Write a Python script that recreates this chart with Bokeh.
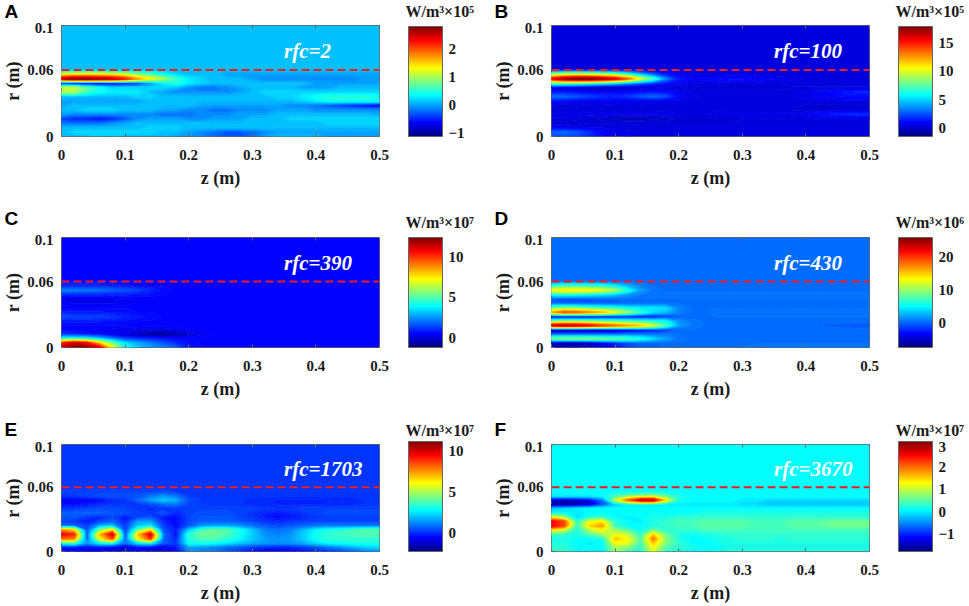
import numpy as np
from bokeh.core.properties import value
from bokeh.embed import file_html
from bokeh.layouts import column, row
from bokeh.models import ColorBar, FixedTicker, LinearAxis, LinearColorMapper, Span
from bokeh.plotting import figure
from bokeh.resources import INLINE

# field values in tenths of the colour bar unit, rows from r=0 upward in steps of 0.004,
# columns from z=0 to z=0.5 in steps of 0.02; short rows carry on with the background value
A = [
    [1,1,1,2,2,1,1,1,1,0,0,-1,-2,-3,-3,-2,0,1,1,1,1,0,0,0,0,0],
    [1,2,2,2,2,2,2,2,1,1,0,-1,-2,-3,-3,-2,-1,0,0,0,0,0,0,0,0,0],
    [1,1,1,1,1,1,1,2,2,2],
    [-2,-2,-2,-2,-1,0,1,1,1,1,1,1,1,1,1,1,1,1,1,1,1,2,2,2,2,2],
    [-4,-5,-5,-6,-5,-3,-1,0,0,0,-1,-1,0,0,0,1,1,1,2,2,2,2,2,2,2,2],
    [0,-1,-1,-1,-1,-1,-1,-1,-2,-2,-2,-1,-1,-1,0,0,0,1,1,1,1,1,1,1,1,0],
    [1,1,2,2,2,1,1,1,0,0,-1,-1,-2,-2,-1,-1,-1,0,0,0,-1,-1,-1,-1,-1,-1],
    [0,1,1,1,1,1,1,1,1,1,1,0,0,0,0,0,0,0,-1,-1,-2,-3,-4,-5,-6,-7],
    [0,0,0,0,0,0,0,1,1,1,1,1,1,1,1,1,1,1,1,2,3,4,4,4,4,4],
    [1,1,1,1,1,1,2,2,1,1,1,1,1,1,1,1,1,2,2,3,4,5,5,5,5,4],
    [10,10,6,4,3,3,3,1,0,-1,-1,-1,-1,-1,0,1,2,2,2,2,2,2,2,2,2,2],
    [11,11,7,4,2,2,2,2,2,1,-1,-2,-2,-1,0,1,1,1,1,0,0,0,1,1,1,1],
    [-7,-9,-9,-9,-8,-7,-5,-1,3,5,3,2,1,1,1,1,1,1,1,1,0,0,0,0,0,0],
    [25,27,27,26,25,22,17,13,10,6,3,2,1,1,1,0,-1,-1,-1,-1,-1,-1,-1,-1,0,0],
    [12,13,13,13,12,11,8,6,4,2,1,1,1,0,0,0,0,0,0,0,0,0,0,0,0,0],
]
B = [
    [22,24,22,18,10,6,5,5],
    [28,30,26,18,10,7,6,5,5],
    [8,7,6,5,5],
    [2,2,2,3,3,3,3,3,3,3,3,3,3,3,3],
    [5,5,4,2,0,-2,-3,-3,-2,0,1,2,2,3,3,3,3,3,3,3,3,3,3,3,3,3],
    [6,6,6,6,6,6,6,6,6,6,5,5,5,6,6,6,6,6,6,6,8,10,14,16,18,18],
    [4,4,4,4,4,4,4,4,4,5,5,5,5,5,4,4,4,4,4,3,3,3,3,3,3,3],
    [3,2,3,5,5,5,5,5,4,4,4,4,4,4,4,4,4,4,4,4,3,3,3,3,3,3],
    [12,10,8,7,7,6,6,6,6,5,5,5,5],
    [30,30,26,22,18,16,20,26,30,25,10,6,5,5,5,5,5,5,5,5,6,8,10,12,12,12],
    [14,14,12,10,9,9,10,12,14,12,7,5,5,5,5,5,5,5,5,5,6,8,10,14,16,16],
    [3,0,-4,-6,-6,-5,-3,-1,1,2,3,2,2,2,2,2,2,2,2,3,3,3,3,3,3,3],
    [70,70,68,62,56,48,38,28,20,14,8,6,5,5],
    [155,170,178,178,170,158,135,100,70,35,14,10,8,10,12,12,10,8,7,6,5,5,5,5,5,5],
    [85,92,95,92,88,80,64,44,28,14,7,5,5,5,5,5],
]
C = [
    [115,124,122,110,72,44,32,26,22,18,8],
    [100,115,105,80,55,36,28,22,16,10,7],
    [42,42,40,32,22,14,12,10,8],
    [12,10,8,6,3,0,-4,-8,-10,-6,-2,3,5],
    [6,5,5,4,4,3,2,1,1,2,4,5],
    [],
    [8,8,8,8,7,7],
    [15,14,14,13,12,10,8,7],
    [8,8,8,8,7,7],
    [],
    [4,3,3,3,3,4,5,5],
    [3,3,3,3,3,4,5,5],
    [10,9,9,9,8,8,7,7],
    [22,22,21,20,18,16,14,10,7],
    [10,10,10,10,9,8,7],
]
D = [
    [-45,-50,-50,-48,-40,-25,-10,0,0,2,4,4,4,4,4,4,6,8,8,8,8,8,8,8,8,8],
    [-65,-70,-68,-60,-45,-25,-10,-2,0,2],
    [85,90,90,88,85,80,72,60,40,20,6],
    [0,0,0,0,0,0,5,5,5,5],
    [-70,-72,-70,-68,-62,-55,-45,-35,-25,-15,0],
    [225,235,230,215,195,180,165,150,120,75,20,8,4,4,4,4,4,4,4,4,2,0,-2,-4,-5,-5],
    [80,85,85,80,75,70,65,60,55,50,15,6],
    [-50,-55,-55,-50,-45,-40,-35,-35,-30,-15,-2,2],
    [160,190,185,170,155,130,100,70,40,30,10,4,4,6,6,6,6,6,6,6,6,6,6,6,6,6],
    [80,90,85,75,65,60,50,45,45,40,10],
    [2,0,-2,-2,-1,0,1,2,3],
    [-5,-8,-8,-5,-2,0,2,3],
    [50,55,50,45,40,30,18,8,6,6,6,6,6,6,6,6,6,6,6,6,6,6,6,6,6,6],
    [130,140,140,135,125,105,60,20,6,2,2,2,2,2,2,2,2,2,2,2,2,2,2,2,2,2],
    [60,70,70,65,60,45,25,10],
]
E = [
    [-6,-8,-8,-8,-10,-12,-8,-10,-14,-6,14,14,12,6,2,-4,-6,-6,-6,-4,0,2,4,8,12,14],
    [-2,-2,-4,-4,-6,-8,-4,-6,-8,-2,16,14,12,8,6,2,0,0,0,2,6,10,14,18,22,24],
    [30,35,15,28,30,10,25,30,8,2,30,32,30,26,22,18,16,14,15,18,24,28,30,32,32,32],
    [80,78,6,60,85,5,62,88,8,0,32,38,38,34,28,22,16,14,16,22,30,34,34,34,34,34],
    [95,90,5,70,100,3,68,100,10,-4,34,42,42,38,30,22,14,12,14,22,30,34,36,38,38,38],
    [75,65,5,45,65,2,42,65,6,-2,22,38,42,40,32,22,12,10,12,20,28,32,34,38,40,40],
    [8,8,3,18,20,2,22,26,3,-4,6,14,16,16,14,10,6,4,6,8,10,10,10,10,10,10],
    [4,2,-2,4,8,-1,16,16,0,-4,4,8,8,8,6,4,2,0,2,3,4,4,4,4,4,4],
    [6,6,2,0,4,-3,4,6,-2,-4,4,6,6,6,4,2,-2,-4,-2,0,2,3,3,3,3,3],
    [8,8,8,8,6,5,4,2,6,0,4,5,5,5,4,2,0,-2,0,2,4,5,5,5,5,5],
    [2,2,4,5,5,4,2,1,2,2,4,4,4,4,4,4,2,2,2,4,4,4,4,4,4,4],
    [-3,-4,-2,0,2,3,2,4,8,10,4,3,2,2,2,1,1,0,0,0,0,1,1,1,2,2],
    [-6,-6,-6,-4,0,2,8,16,22,18,5,3,2,2,2,1,1,0,0,0,0,0,0,0,2,2],
    [2,2,4,5,5,5,6,10,14,10,3],
    [4,4,4,4,4,4,4,4,4,3],
]
F = [
    [3,3,1,0,0,8,5,2,12,3,2,1,1,1,2,2,2,2,2,2,2,2,2,2,2,2],
    [3,3,1,1,1,9,7,3,13,5,3,2,1,1,2,2,2,2,2,2,2,2,2,2,2,2],
    [2,2,1,0,1,13,12,4,16,7,3,1,1,1,2,2,2,2,2,2,2,2,2,2,2,2],
    [2,2,1,1,2,16,13,4,20,7,2,1,1,2,2,3,3,3,2,3,3,3,3,3,3,3],
    [4,3,2,5,8,12,10,3,15,6,2,1,2,2,3,3,3,3,3,3,3,3,3,3,3,3],
    [12,10,2,9,13,8,5,1,6,3,3,3,4,4,4,4,4,4,4,4,4,4,4,4,4,4],
    [26,22,3,15,18,3,1,1,2,3,4,4,5,5,5,5,4,4,4,5,5,5,6,6,6,6],
    [26,22,3,12,14,3,1,0,2,3,4,4,5,5,5,5,4,4,4,5,5,5,6,6,6,6],
    [12,8,-1,2,3,1,0,1,2,2,3,3,3,3,3,3,3,3,3,3,3,3,3,3,3,3],
    [1,1,0,1,1,1,1,1,1,1,1,1,2,2,2,2,2,2,2,2,2,2,2,2,2,2],
    [-2,-1,0],
    [-16,-17,-16,-15,-8,-2,0,0,0,0,0,0,0,0,0,-1,-1,-2,-2,-2,-2,-2,-2,-2,-2,-2],
    [-14,-15,-14,-12,-6,10,20,27,27,14,2,1,1,1,1,0,0,-1,-1,-1,-1,-1,-1,-1,-1,-1],
    [0,0,0,0,1,4,6,7,8,5,2],
    [],
]

backgrounds = [1, 4, 6, 4, 2, 1]
low = [-1.13, -1.5, -1.24, -7.6, -2.18, -1.79]
high = [2.8, 17.9, 12.4, 25.9, 11.1, 3.15]
bar_ticks = [[-1, 0, 1, 2], [0, 5, 10, 15], [0, 5, 10], [0, 10, 20], [0, 5, 10], [-1, 0, 1, 2, 3]]
bar_titles = ["W/m³×10⁵", "W/m³×10⁵", "W/m³×10⁷", "W/m³×10⁶", "W/m³×10⁷", "W/m³×10⁷"]
letters = ["A", "B", "C", "D", "E", "F"]
rfc = ["rfc=2", "rfc=100", "rfc=390", "rfc=430", "rfc=1703", "rfc=3670"]
z_ticks = [0, 0.1, 0.2, 0.3, 0.4, 0.5]
z_labels = ["0", "0.1", "0.2", "0.3", "0.4", "0.5"]
r_ticks = [0, 0.06, 0.1]
r_labels = ["0", "0.06", "0.1"]
wall_r = 0.06

z_grid = np.arange(26) * 0.02
r_grid = np.arange(26) * 0.004

SERIF = "Liberation Serif"
N_LEVELS = 96

# jet
stops = [0, 0.125, 0.375, 0.625, 0.875, 1]
red = [0, 0, 0, 255, 255, 128]
green = [0, 0, 255, 255, 0, 0]
blue = [128, 255, 255, 0, 0, 0]
t = np.linspace(0, 1, 256)
jet = ["#%02x%02x%02x" % (int(a), int(b), int(c))
       for a, b, c in zip(np.interp(t, stops, red), np.interp(t, stops, green), np.interp(t, stops, blue))]
bands = [jet[int(k * 255 / (N_LEVELS - 1))] for k in range(N_LEVELS)]
edges = [jet[int(k * 255 / N_LEVELS)] for k in range(N_LEVELS + 1)]


def field(rows, bg):
    full = [r + [bg] * (26 - len(r)) for r in rows]
    full += [[bg] * 26 for _ in range(26 - len(full))]
    return np.array(full) / 10


# strip over a panel for its letter and the colour bar title
def header(i, width, height, letter_y, title_y):
    p = figure(width=width, height=height, x_range=(0, width), y_range=(height, 0), min_border=0,
               toolbar_location=None, output_backend="svg", outline_line_color=None)
    p.axis.visible = False
    p.grid.visible = False
    p.text(x=[4], y=[letter_y], text=[letters[i]], text_color="black", text_font=value("Liberation Sans"),
           text_font_style="bold", text_font_size="19px", text_baseline="middle")
    p.text(x=[405], y=[title_y], text=[bar_titles[i]], text_color="#1a1a1a", text_font=value(SERIF),
           text_font_style="bold", text_font_size="16px", text_baseline="middle")
    return p


def panel(i, rows, width, height, bottom):
    p = figure(width=width, height=height, x_range=(0, 0.5), y_range=(0, 0.1),
               min_border_left=61, min_border_right=width - 61 - 318, min_border_top=3,
               min_border_bottom=bottom, toolbar_location=None, output_backend="svg",
               x_axis_label="z (m)", y_axis_label="r (m)")
    mapper = LinearColorMapper(palette=jet, low=low[i], high=high[i])
    levels = np.linspace(low[i], high[i], N_LEVELS + 1)
    p.contour(z_grid, r_grid, field(rows, backgrounds[i]), levels=levels, fill_color=bands,
              line_color=edges, line_width=1)
    p.add_layout(Span(location=wall_r, dimension="width", line_color="#f01c24", line_width=2, line_dash="8 4"))
    p.text(x=[0.35], y=[0.077], text=[rfc[i]], text_color="white", text_font=value(SERIF),
           text_font_style="bold italic", text_font_size="21px", text_baseline="middle")

    p.grid.visible = False
    p.outline_line_color = "#666666"
    for axis, ticks, labels in ((p.xaxis[0], z_ticks, z_labels), (p.yaxis[0], r_ticks, r_labels)):
        axis.ticker = FixedTicker(ticks=ticks)
        axis.major_label_overrides = dict(zip(ticks, labels))
        axis.major_label_text_font = SERIF
        axis.major_label_text_font_style = "bold"
        axis.major_label_text_font_size = "15px"
        axis.major_label_text_color = "#1a1a1a"
        axis.axis_label_text_font = SERIF
        axis.axis_label_text_font_style = "bold"
        axis.axis_label_text_color = "#1a1a1a"
        axis.major_tick_in = 3
        axis.major_tick_out = 0
        axis.major_tick_line_color = "#666666"
        axis.minor_tick_line_color = None
        axis.axis_line_color = None
    p.xaxis[0].major_label_standoff = 13
    p.xaxis[0].axis_label_text_font_size = "18px"
    p.xaxis[0].axis_label_standoff = 5
    p.yaxis[0].major_label_standoff = 8
    p.yaxis[0].axis_label_text_font_size = "18px"
    p.yaxis[0].axis_label_standoff = 1

    top_axis = LinearAxis(ticker=FixedTicker(ticks=z_ticks), major_label_overrides={k: "" for k in z_ticks},
                          major_tick_in=3, major_tick_out=0, major_tick_line_color="#666666",
                          minor_tick_line_color=None, axis_line_color=None)
    p.add_layout(top_axis, "above")

    bar = ColorBar(color_mapper=mapper, ticker=FixedTicker(ticks=bar_ticks[i]), width=34, height=110,
                   padding=0, margin=0, location=(29, 0), major_tick_line_color=None,
                   bar_line_color="#666666", border_line_color=None, background_fill_color=None,
                   major_label_text_font=SERIF, major_label_text_font_style="bold",
                   major_label_text_font_size="15px", major_label_text_color="#1a1a1a", label_standoff=6)
    p.add_layout(bar, "right")
    return p


page = column(
    row(header(0, 490, 22, 11, 11), header(1, 477, 22, 11, 11), spacing=0),
    row(panel(0, A, 490, 183, 69), panel(1, B, 477, 183, 69), spacing=0),
    row(header(2, 490, 29, 13, 17), header(3, 477, 29, 13, 17), spacing=0),
    row(panel(2, C, 490, 182, 69), panel(3, D, 477, 182, 69), spacing=0),
    row(header(4, 490, 25, 13, 14), header(5, 477, 25, 13, 14), spacing=0),
    row(panel(4, E, 490, 164, 51), panel(5, F, 477, 164, 51), spacing=0),
    spacing=0,
)
open("out.html", "w").write(file_html(page, INLINE))
